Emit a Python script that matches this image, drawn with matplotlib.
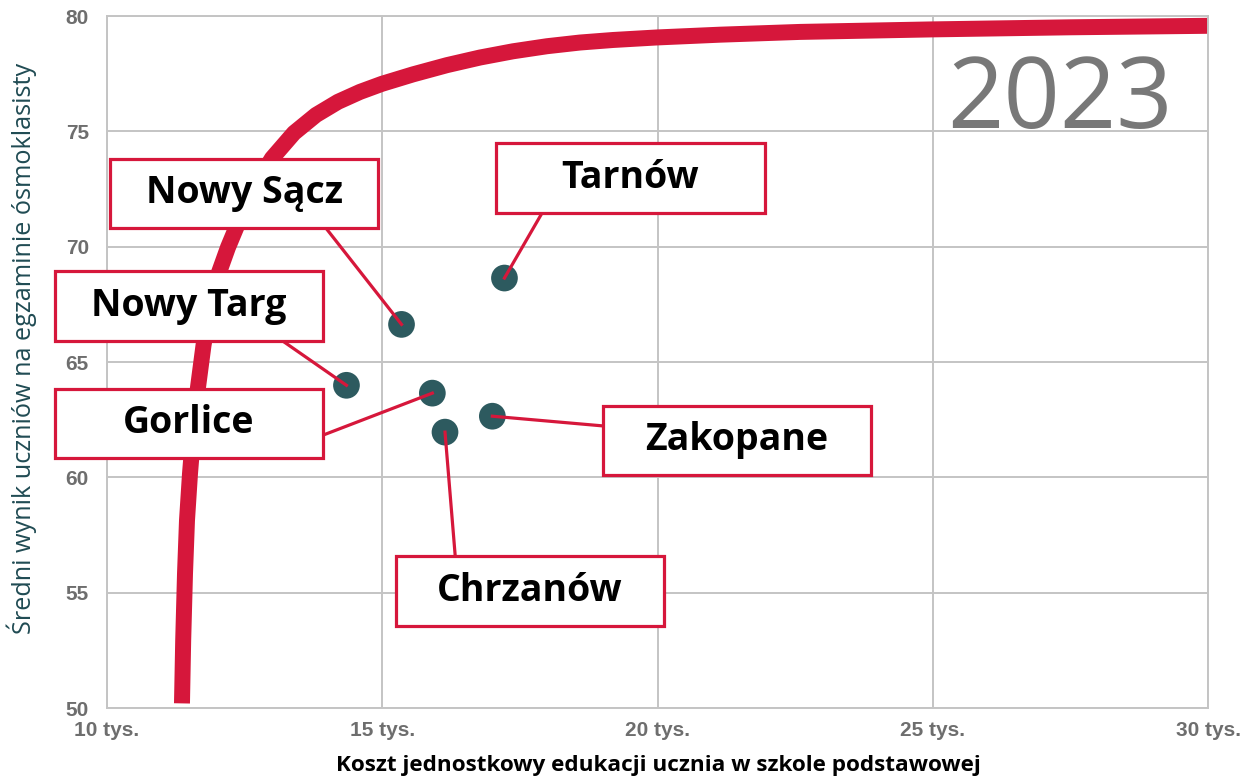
import matplotlib.pyplot as plt
from matplotlib.patches import Rectangle

# koszt jednostkowy (tys. zł) i średni wynik egzaminu ósmoklasisty
cities = ['Nowy Sącz', 'Tarnów', 'Nowy Targ', 'Gorlice', 'Zakopane', 'Chrzanów']
cost = [15.35, 17.22, 14.35, 15.91, 17.00, 16.14]
score = [66.63, 68.64, 63.99, 63.65, 62.65, 61.96]

# krzywa trendu
trend_x = [11.362, 11.384, 11.417, 11.453, 11.508, 11.571, 11.653, 11.753,
           11.871, 12.016, 12.198, 12.598, 12.997, 13.397, 13.797, 14.196,
           14.596, 14.995, 15.559, 16.176, 16.776, 17.375, 17.993, 18.592,
           19.192, 19.991, 21.135, 22.589, 25.005, 27.493, 30.0]
trend_y = [50.20, 52.93, 55.83, 58.13, 60.17, 62.03, 63.90, 65.72,
           67.37, 68.76, 69.97, 72.26, 73.83, 74.93, 75.71, 76.28,
           76.71, 77.06, 77.47, 77.87, 78.20, 78.47, 78.69, 78.85,
           78.96, 79.07, 79.19, 79.31, 79.42, 79.51, 79.575]

x_ticks = [10, 15, 20, 25, 30]
x_tick_labels = ['10 tys.', '15 tys.', '20 tys.', '25 tys.', '30 tys.']
y_ticks = [50, 55, 60, 65, 70, 75, 80]
year = '2023'

# ramki z nazwami: środek ramki i punkt zaczepienia linii (ułamek szer./wys. ramki)
label_pos = {
    'Nowy Sącz': ((12.49, 72.31), (0.805, 0.0)),
    'Tarnów': ((19.51, 72.98), (0.171, 0.0)),
    'Nowy Targ': ((11.49, 67.43), (0.847, 0.0)),
    'Gorlice': ((11.49, 62.34), (1.0, 0.33)),
    'Zakopane': ((21.44, 61.60), (0.0, 0.71)),
    'Chrzanów': ((17.68, 55.07), (0.222, 1.0)),
}
box_w, box_h = 4.87, 3.0

RED = '#d6173b'
DOT = '#2d5a5f'
GRID = '#c4c4c4'

fig = plt.figure(figsize=(12.51, 7.79), dpi=100)
ax = fig.add_axes([107 / 1251, 71 / 779, 1101 / 1251, 692 / 779])

ax.set_xlim(10, 30)
ax.set_ylim(50, 80)
ax.set_xticks(x_ticks)
ax.set_xticklabels(x_tick_labels)
ax.set_yticks(y_ticks)
ax.grid(True, color=GRID, linewidth=1.4, zorder=0)
ax.set_axisbelow(True)
for s in ax.spines.values():
    s.set_color(GRID)
    s.set_linewidth(1.4)
ax.tick_params(length=0, colors='#6e6e6e', labelsize=15)
ax.tick_params(axis='x', pad=9)
ax.tick_params(axis='y', pad=13)
for lab in ax.get_xticklabels() + ax.get_yticklabels():
    lab.set_fontfamily('Liberation Sans')
    lab.set_fontweight('bold')

ax.plot(trend_x, trend_y, color=RED, linewidth=11.5, solid_capstyle='butt',
        solid_joinstyle='round', zorder=2)
ax.scatter(cost, score, s=370, color=DOT, edgecolors='none', zorder=3)

for name, x, y in zip(cities, cost, score):
    (cx, cy), (fx, fy) = label_pos[name]
    x0, y0 = cx - box_w / 2, cy - box_h / 2
    ax.plot([x0 + fx * box_w, x], [y0 + fy * box_h, y], color=RED,
            linewidth=2.3, zorder=4, clip_on=False)
    ax.add_patch(Rectangle((x0, y0), box_w, box_h, facecolor='white',
                           edgecolor=RED, linewidth=2.3, zorder=5,
                           clip_on=False))
    ax.text(cx, cy, name, ha='center', va='center', fontsize=27,
            fontfamily='Open Sans', fontweight='bold', color='black', zorder=6)

ax.text(0.8656, 0.8378, year, transform=ax.transAxes, ha='center',
        va='baseline', fontsize=71, fontfamily='Open Sans', color='#787878')

fig.text(658 / 1251, 1 - 766 / 779,
         'Koszt jednostkowy edukacji ucznia w szkole podstawowej',
         ha='center', va='center', fontsize=16.2, fontfamily='Open Sans',
         fontweight='bold', color='black')
fig.text(22 / 1251, 1 - 348 / 779,
         'Średni wynik uczniów na egzaminie ósmoklasisty',
         ha='center', va='center', rotation=90, fontsize=18.2,
         fontfamily='Open Sans', color='#204b53')

fig.savefig('out.png', dpi=100)
